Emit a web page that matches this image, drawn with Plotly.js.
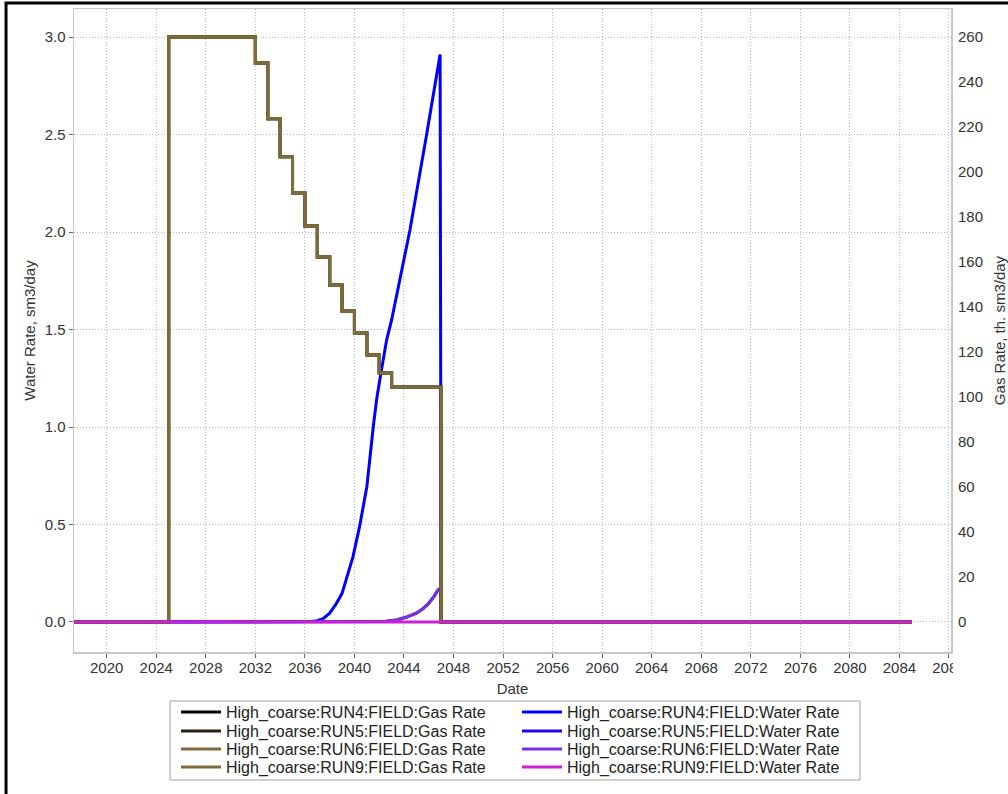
<!DOCTYPE html>
<html>
<head>
<meta charset="utf-8">
<script src="https://cdn.plot.ly/plotly-3.0.1.min.js"></script>
<style>
  html, body { margin: 0; padding: 0; background: #ffffff; }
  #chart { width: 1008px; height: 794px; }
</style>
</head>
<body>
<div id="chart"></div>
<script>
// Gas rate (th. sm3/day) — stepwise yearly schedule, identical across runs
const gasDates = ["2017-01-01", "2025-01-01", "2032-01-01", "2033-01-01", "2034-01-01",
  "2035-01-01", "2036-01-01", "2037-01-01", "2038-01-01", "2039-01-01", "2040-01-01",
  "2041-01-01", "2042-01-01", "2043-01-01", "2047-01-01", "2085-01-01"];
const gasRun4 = [0, 260, 248.4, 223.6, 206.7, 190.7, 176, 162.2, 149.8, 138.2, 128.4, 118.7, 110.7, 104.4, 0, 0];
const gasRun5 = [0, 260, 248.4, 223.6, 206.7, 190.7, 176, 162.2, 149.8, 138.2, 128.4, 118.7, 110.7, 104.4, 0, 0];
const gasRun6 = [0, 260, 248.4, 223.6, 206.7, 190.7, 176, 162.2, 149.8, 138.2, 128.4, 118.7, 110.7, 104.4, 0, 0];
const gasRun9 = [0, 260, 248.4, 223.6, 206.7, 190.7, 176, 162.2, 149.8, 138.2, 128.4, 118.7, 110.7, 104.4, 0, 0];

// Water rate (sm3/day), RUN4
const waterDates4 = ["2017-01-01", "2036-01-01", "2036-07-01", "2037-01-01", "2037-07-01",
  "2038-01-01", "2038-07-01", "2039-01-01", "2039-06-01", "2039-11-20", "2040-06-01",
  "2041-01-01", "2041-07-08", "2041-10-15", "2042-02-20", "2042-08-07", "2043-01-01",
  "2043-09-01", "2044-06-25", "2045-10-30", "2046-12-01", "2047-01-01", "2085-01-01"];
const waterRun4 = [0, 0, 0.002, 0.007, 0.018, 0.045, 0.09, 0.147, 0.24, 0.335, 0.49,
  0.694, 1.0, 1.14, 1.277, 1.446, 1.549, 1.754, 2.01, 2.5, 2.91, 0, 0];

// Water rate (sm3/day), RUN5 / RUN6
const waterDates56 = ["2017-01-01", "2041-06-01", "2042-06-01", "2043-06-01", "2044-03-01",
  "2045-01-01", "2045-07-01", "2046-01-01", "2046-06-01", "2046-10-01", "2046-12-20",
  "2047-01-01", "2085-01-01"];
const waterRun5 = [0, 0, 0.003, 0.01, 0.024, 0.045, 0.066, 0.096, 0.13, 0.164, 0.175, 0, 0];
const waterRun6 = [0, 0, 0.003, 0.01, 0.024, 0.045, 0.066, 0.096, 0.13, 0.164, 0.175, 0, 0];

// Water rate (sm3/day), RUN9
const waterDates9 = ["2017-01-01", "2085-01-01"];
const waterRun9 = [0, 0];

const runLabels = ["RUN4", "RUN5", "RUN6", "RUN9"];
const legendIds = ["legend", "legend2", "legend3", "legend4"];
const gasColors = ["#000000", "#2b1d0f", "#86663f", "#7c6c3a"];
const waterColors = ["#0000ff", "#2a00ea", "#7a2ee0", "#cc1fd2"];

const gasSeries = [gasRun4, gasRun5, gasRun6, gasRun9];
const waterSeries = [
  [waterDates4, waterRun4],
  [waterDates56, waterRun5],
  [waterDates56, waterRun6],
  [waterDates9, waterRun9]
];

function waterTrace(i, axis) {
  return {
    type: "scatter", mode: "lines",
    name: "High_coarse:" + runLabels[i] + ":FIELD:Water Rate",
    x: waterSeries[i][0], y: waterSeries[i][1], yaxis: axis,
    legend: legendIds[i], legendrank: 2,
    line: { color: waterColors[i], width: 3 }
  };
}

const traces = [];
// water rates of RUN4..RUN6 on the left axis
[0, 1, 2].forEach(function (i) { traces.push(waterTrace(i, "y")); });
// gas rates on the right axis, drawn over the water curves
runLabels.forEach(function (run, i) {
  traces.push({
    type: "scatter", mode: "lines",
    name: "High_coarse:" + run + ":FIELD:Gas Rate",
    x: gasDates, y: gasSeries[i], yaxis: "y2",
    legend: legendIds[i], legendrank: 1,
    line: { color: gasColors[i], width: 3, shape: "hv" }
  });
});
// RUN9 water stays at zero (same baseline on both axes); drawn last, on top
traces.push(waterTrace(3, "y2"));

const fam = "Liberation Sans, Arial, sans-serif";
const tickFont = { family: fam, size: 15, color: "#333333" };
const titleFont = { family: fam, size: 15, color: "#333333" };
const legendFont = { family: fam, size: 16, color: "#222222" };
const gridDash = "1px,2px";

// one legend row per run: gas entry on the left, water entry on the right
const legendRowY = [-0.0933, -0.1229, -0.1509, -0.1789];
function legendRow(k) {
  return {
    orientation: "h",
    x: 0.1163, xanchor: "left",
    y: legendRowY[k], yanchor: "middle",
    entrywidth: 286,
    itemwidth: 40,
    bgcolor: "rgba(0,0,0,0)", borderwidth: 0,
    font: legendFont
  };
}

const layout = {
  width: 1008, height: 794,
  margin: { l: 74, r: 57, t: 9, b: 142 },
  paper_bgcolor: "#ffffff",
  plot_bgcolor: "#ffffff",
  showlegend: true,
  xaxis: {
    type: "date",
    range: ["2017-05-11", "2088-03-01"],
    tick0: "2020-01-01", dtick: "M48", tickformat: "%Y",
    showgrid: true, gridcolor: "#b8b8b8", griddash: gridDash, gridwidth: 1,
    showline: true, linecolor: "#c8c8c8", linewidth: 1.5, mirror: true,
    ticks: "outside", ticklen: 4, tickcolor: "#666666",
    ticklabelstandoff: -3,
    zeroline: false,
    tickfont: tickFont,
    title: { text: "Date", font: titleFont, standoff: 9 },
    automargin: false
  },
  yaxis: {
    range: [-0.154, 3.144],
    dtick: 0.5, tickformat: ".1f",
    showgrid: true, gridcolor: "#b8b8b8", griddash: gridDash, gridwidth: 1,
    showline: true, linecolor: "#c8c8c8", linewidth: 1.5, mirror: true,
    ticks: "outside", ticklen: 4, tickcolor: "#666666",
    zeroline: false,
    tickfont: tickFont,
    title: { text: "Water Rate, sm3/day", font: titleFont, standoff: 5 },
    automargin: false
  },
  yaxis2: {
    overlaying: "y", side: "right",
    range: [-13.3, 272.4],
    dtick: 20,
    showgrid: false, zeroline: false, showline: false,
    ticks: "", ticklabelstandoff: 6,
    tickfont: tickFont,
    title: { text: "Gas Rate, th. sm3/day", font: titleFont, standoff: 12 },
    automargin: false
  },
  legend: legendRow(0),
  legend2: legendRow(1),
  legend3: legendRow(2),
  legend4: legendRow(3),
  shapes: [
    // legend frame
    {
      type: "rect", xref: "paper", yref: "paper",
      x0: 0.1095, x1: 0.8962, y0: -0.199, y1: -0.0762,
      line: { color: "#a0a0a0", width: 1 }, fillcolor: "rgba(0,0,0,0)", layer: "below"
    },
    // outer frame
    {
      type: "rect", xref: "paper", yref: "paper",
      x0: -0.0775, x1: 1.08, y0: -0.25, y1: 1.0093,
      line: { color: "#000000", width: 3 }, fillcolor: "rgba(0,0,0,0)", layer: "above"
    },
    // trims the last date label at the widget edge
    {
      type: "rect", xref: "paper", yref: "paper",
      x0: 1.0023, x1: 1.04, y0: -0.047, y1: -0.007,
      line: { width: 0 }, fillcolor: "#ffffff", layer: "above"
    }
  ]
};

Plotly.newPlot("chart", traces, layout, { displayModeBar: false, staticPlot: true });
</script>
</body>
</html>
